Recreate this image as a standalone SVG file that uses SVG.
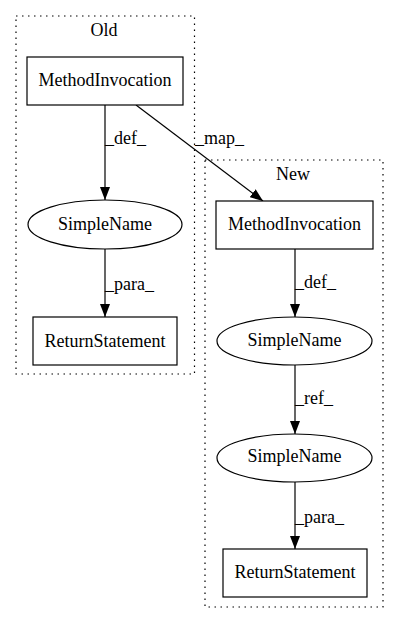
<svg xmlns="http://www.w3.org/2000/svg" width="400" height="624" viewBox="0 0 400 624">
<style>
text{font-family:"Liberation Serif","Times New Roman",serif;font-size:18px;fill:#000}
.c{text-anchor:middle}
.cl{fill:none;stroke:#000;stroke-width:1.2;stroke-dasharray:1.5,4.5}
.n{fill:#fff;stroke:#000;stroke-width:1.2}
.e{fill:none;stroke:#000;stroke-width:1.2}
</style>
<defs>
<marker id="a" viewBox="0 0 13 10" refX="13" refY="5" markerWidth="13" markerHeight="10" markerUnits="userSpaceOnUse" orient="auto">
<path d="M0,0L13,5L0,10z" fill="#000"/>
</marker>
</defs>
<rect width="400" height="624" fill="#fff"/>
<g id="cluster_old">
<rect class="cl" x="16" y="16" width="178.5" height="358"/>
<text class="c" x="104" y="36">Old</text>
</g>
<g id="cluster_new">
<rect class="cl" x="205" y="160" width="178" height="447"/>
<text class="c" x="293" y="180">New</text>
</g>
<g id="edges">
<line class="e" x1="105" y1="105" x2="105" y2="200" marker-end="url(#a)"/>
<text x="105" y="144">_def_</text>
<line class="e" x1="105" y1="249" x2="105" y2="317" marker-end="url(#a)"/>
<text x="105" y="290">_para_</text>
<line class="e" x1="136" y1="105" x2="263" y2="201" marker-end="url(#a)"/>
<text x="195" y="144">_map_</text>
<line class="e" x1="295" y1="249" x2="295" y2="317" marker-end="url(#a)"/>
<text x="295" y="288">_def_</text>
<line class="e" x1="295" y1="365" x2="295" y2="434" marker-end="url(#a)"/>
<text x="295" y="404">_ref_</text>
<line class="e" x1="295" y1="482" x2="295" y2="549" marker-end="url(#a)"/>
<text x="295" y="522.5">_para_</text>
</g>
<g id="old_mi">
<rect class="n" x="27" y="57" width="156" height="48"/>
<text class="c" x="105" y="86">MethodInvocation</text>
</g>
<g id="old_sn">
<ellipse class="n" cx="105" cy="224.5" rx="77" ry="24.5"/>
<text class="c" x="105" y="230">SimpleName</text>
</g>
<g id="old_rs">
<rect class="n" x="33" y="317" width="144" height="48"/>
<text class="c" x="105" y="346.5">ReturnStatement</text>
</g>
<g id="new_mi">
<rect class="n" x="216" y="201" width="157" height="48"/>
<text class="c" x="294.5" y="230">MethodInvocation</text>
</g>
<g id="new_sn1">
<ellipse class="n" cx="294.5" cy="341" rx="77.5" ry="24"/>
<text class="c" x="294.5" y="346">SimpleName</text>
</g>
<g id="new_sn2">
<ellipse class="n" cx="294.5" cy="458" rx="77.5" ry="24"/>
<text class="c" x="294.5" y="462">SimpleName</text>
</g>
<g id="new_rs">
<rect class="n" x="223" y="549" width="144" height="48"/>
<text class="c" x="295" y="578">ReturnStatement</text>
</g>
</svg>
